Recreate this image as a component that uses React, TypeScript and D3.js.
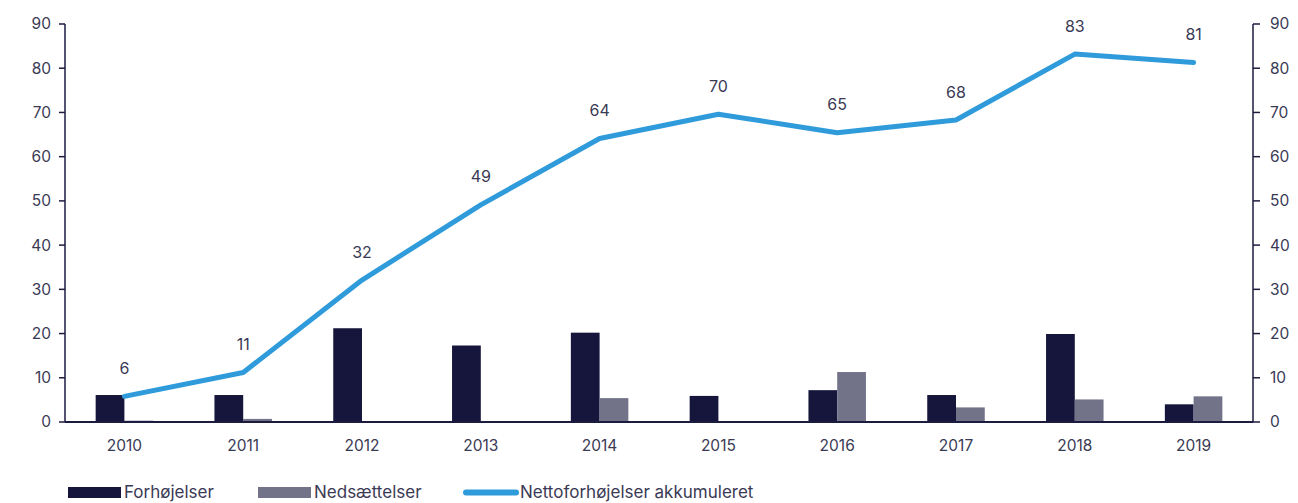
import React from "react";
import * as d3 from "d3";

const years = ["2010","2011","2012","2013","2014","2015","2016","2017","2018","2019"];
const forhojelser = [6.1, 6.1, 21.2, 17.3, 20.2, 5.9, 7.2, 6.1, 19.9, 4.0];
const nedsaettelser = [0.3, 0.7, 0.2, 0.2, 5.4, 0.2, 11.3, 3.3, 5.1, 5.8];
const netto = [5.8, 11.2, 32.1, 49.1, 64.1, 69.6, 65.4, 68.3, 83.2, 81.3];
const yTicks = [0, 10, 20, 30, 40, 50, 60, 70, 80, 90];
const legendLabels = ["Forhøjelser", "Nedsættelser", "Nettoforhøjelser akkumuleret"];

const W = 1298, H = 503;
const left = 65, right = 1253, top = 24, bottom = 422;
const cDark = "#16163c", cGray = "#727289", cBlue = "#2f9bdb", cAxis = "#1b1b40", cText = "#3a3a55";
const font = "Inter, 'Open Sans', sans-serif";

export default function App() {
  const x = d3.scaleBand<string>().domain(years).range([left, right]).padding(0);
  const y = d3.scaleLinear().domain([0, 90]).range([bottom, top]);
  const bw = x.bandwidth() * 0.242;
  const cx = (d: string) => (x(d) as number) + x.bandwidth() / 2;
  const line = d3.line<number>().x((_, i) => cx(years[i])).y((v) => y(v)).curve(d3.curveLinear);
  const fmt = d3.format(".0f");

  return (
    <svg width={W} height={H} style={{ position: "absolute", left: 0, top: 0, background: "#fff" }} fontFamily={font}>
      {years.map((yr, i) => (
        <g key={yr}>
          <rect x={cx(yr) - bw} y={y(forhojelser[i])} width={bw} height={bottom - y(forhojelser[i])} fill={cDark} />
          <rect x={cx(yr)} y={y(nedsaettelser[i])} width={bw} height={bottom - y(nedsaettelser[i])} fill={cGray} />
        </g>
      ))}
      <line x1={left} x2={left} y1={top} y2={bottom} stroke={cAxis} strokeWidth={1.5} />
      <line x1={right} x2={right} y1={top} y2={bottom} stroke={cAxis} strokeWidth={1.5} />
      {yTicks.map((t) => (
        <g key={t}>
          <line x1={left - 6} x2={left} y1={y(t)} y2={y(t)} stroke={cAxis} strokeWidth={1.5} />
          <text x={left - 14} y={y(t)} dy="0.35em" textAnchor="end" fontSize={15.5} fill={cText}>{t}</text>
          <line x1={right} x2={right + 7} y1={y(t)} y2={y(t)} stroke={cAxis} strokeWidth={1.5} />
          <text x={right + 17} y={y(t)} dy="0.35em" textAnchor="start" fontSize={15.5} fill={cText}>{t}</text>
        </g>
      ))}
      <line x1={left} x2={right} y1={bottom} y2={bottom} stroke={cAxis} strokeWidth={2.2} />
      {years.map((yr) => (
        <text key={yr} x={cx(yr)} y={446} dy="0.35em" textAnchor="middle" fontSize={15.5} fill={cText}>{yr}</text>
      ))}
      <path d={line(netto) || ""} fill="none" stroke={cBlue} strokeWidth={5} strokeLinejoin="round" strokeLinecap="round" />
      {netto.map((v, i) => (
        <text key={i} x={cx(years[i])} y={y(v) - 28} dy="0.35em" textAnchor="middle" fontSize={16} fill={cText}>{fmt(v)}</text>
      ))}
      <rect x={68} y={487} width={53} height={11} fill={cDark} />
      <text x={124} y={498} fontSize={17} fill={cText}>{legendLabels[0]}</text>
      <rect x={258} y={487} width={53} height={11} fill={cGray} />
      <text x={314} y={498} fontSize={17} fill={cText}>{legendLabels[1]}</text>
      <line x1={466} x2={516} y1={492.5} y2={492.5} stroke={cBlue} strokeWidth={6} strokeLinecap="round" />
      <text x={520} y={498} fontSize={17} fill={cText}>{legendLabels[2]}</text>
    </svg>
  );
}
